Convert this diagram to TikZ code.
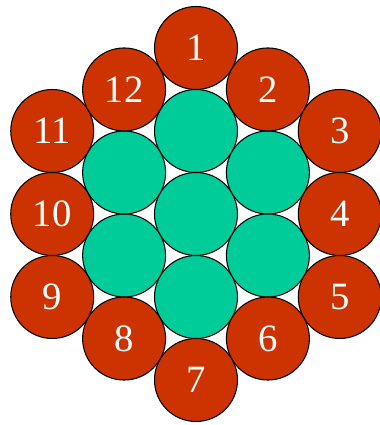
\documentclass[tikz,border=0pt]{standalone}
\usepackage{fontspec}
\setmainfont{Liberation Serif}
\usepackage{tikz}
\usetikzlibrary{positioning}
\definecolor{rustred}{HTML}{CC3300}
\definecolor{seagreen}{HTML}{00CC99}

\begin{document}
\begin{tikzpicture}[
    x=0.02cm, y=0.02cm,
    wire/.style={circle, draw, line width=0.6pt, minimum size=1.66cm, inner sep=0pt},
    outer/.style={wire, fill=rustred, text=white, font=\rmfamily\fontsize{22}{26}\selectfont},
    inner/.style={wire, fill=seagreen}
]
    \useasboundingbox (-196,-211) rectangle (183,214);

    % inner layer
    \node[inner] (c0) at (0,0) {};
    \foreach \k in {1,...,6}
        \node[inner] (c\k) at ({90-60*(\k-1)}:83) {};

    % outer layer, numbered clockwise from the top
    \foreach \k in {1,...,12} {
        \pgfmathsetmacro{\dist}{isodd(\k) ? 166 : 143.8}
        \node[outer] (w\k) at ({90-30*(\k-1)}:\dist) {\k};
    }
\end{tikzpicture}
\end{document}
